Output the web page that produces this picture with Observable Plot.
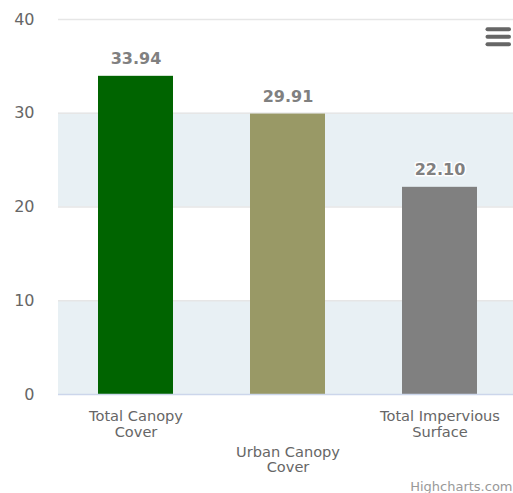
<!DOCTYPE html>
<html>
<head>
<meta charset="utf-8">
<script src="https://cdn.jsdelivr.net/npm/d3@7"></script>
<script src="https://cdn.jsdelivr.net/npm/@observablehq/plot@0.6"></script>
<style>
  html, body { margin: 0; padding: 0; background: #fff; }
  #chart { position: relative; width: 513px; height: 493px; }
  #chart svg { display: block; }
  #menu { position: absolute; left: 484px; top: 26px; }
</style>
</head>
<body>
<div id="chart"></div>
<script>
const categories = ["Total Canopy Cover", "Urban Canopy Cover", "Total Impervious Surface"];
const categoryLabels = ["Total Canopy\nCover", "Urban Canopy\nCover", "Total Impervious\nSurface"];
const values = [33.94, 29.91, 22.10];
const barColors = ["#006400", "#999966", "#808080"];
const yTicks = [0, 10, 20, 30, 40];
const bandStarts = [0, 20];
const bandEnds = [10, 30];
const credit = "Highcharts.com";

const data = categories.map((c, i) => ({
  category: c, label: categoryLabels[i], value: values[i], color: barColors[i], idx: i
}));
const bands = bandStarts.map((s, i) => ({ y1: s, y2: bandEnds[i] }));

const font = "DejaVu Sans, sans-serif";

const chart = Plot.plot({
  width: 513,
  height: 493,
  marginTop: 19,
  marginBottom: 99,
  marginLeft: 58,
  marginRight: 0,
  style: { fontFamily: font, background: "#fff", overflow: "visible" },
  x: { domain: categories, range: [58, 516], paddingInner: 0.508, paddingOuter: 0.254, axis: null },
  y: { domain: [0, 40], ticks: yTicks },
  marks: [
    Plot.rectY(bands, { y1: "y1", y2: "y2", fill: "#e8f0f4" }),
    Plot.ruleY(yTicks.filter(t => t > 0), { stroke: "#e6e6e6", strokeWidth: 1.3 }),
    Plot.barY(data, { x: "category", y: "value", fill: "color" }),
    Plot.ruleY([0], { stroke: "#ccd6eb", strokeWidth: 1.5 }),
    Plot.axisY({ ticks: yTicks, tickSize: 0, tickPadding: 24, fontSize: 16, fill: "#666", label: null }),
    Plot.text(data, {
      x: "category", y: "value", text: d => d.value.toFixed(2),
      dy: -17, fontSize: 16, fontWeight: "bold", fill: "#808080",
      stroke: "white", strokeWidth: 3, lineAnchor: "middle"
    }),
    Plot.text(data.filter(d => d.idx % 2 === 0), {
      x: "category", y: () => 0, text: "label",
      lineAnchor: "top", dy: 15, fontSize: 14.6, lineHeight: 1.1, fill: "#666"
    }),
    Plot.text(data.filter(d => d.idx % 2 === 1), {
      x: "category", y: () => 0, text: "label",
      lineAnchor: "top", dy: 51, fontSize: 14.6, lineHeight: 1.06, fill: "#666"
    }),
    Plot.text([credit], {
      text: d => d, frameAnchor: "bottom-right", dx: -1, dy: 92.5,
      lineAnchor: "middle", textAnchor: "end", fontSize: 13, fill: "#999"
    })
  ]
});

const container = document.getElementById("chart");
container.appendChild(chart);

// export menu icon (decorative)
const menu = d3.select(container).append("svg")
  .attr("id", "menu").attr("width", 28).attr("height", 24);
[3.3, 10.7, 18.3].forEach(y => {
  menu.append("line").attr("x1", 3.5).attr("x2", 25).attr("y1", y).attr("y2", y)
    .attr("stroke", "#666").attr("stroke-width", 4).attr("stroke-linecap", "round");
});
</script>
</body>
</html>
